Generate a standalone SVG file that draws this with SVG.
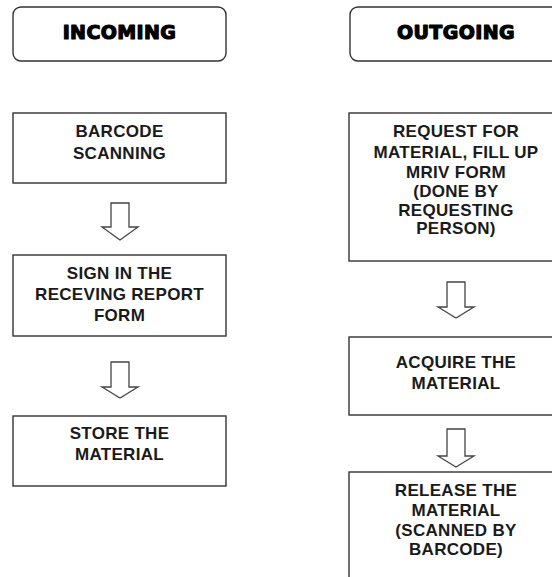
<svg xmlns="http://www.w3.org/2000/svg" width="552" height="577" viewBox="0 0 552 577">
<style>
.hdr{fill:#fff;stroke:#333;stroke-width:1.4}
.box{fill:#fff;stroke:#333;stroke-width:1.4}
.ht{font-family:"DejaVu Sans",sans-serif;font-weight:bold;font-size:19px;fill:#000;stroke:#000;stroke-width:1.2;stroke-linejoin:round;letter-spacing:0.4px;text-anchor:middle}
.t{font-family:"Liberation Sans",Arial,sans-serif;font-weight:bold;font-size:17px;letter-spacing:0.3px;fill:#1a1a1a;text-anchor:middle}
.arr{fill:#fff;stroke:#444;stroke-width:1.3;stroke-linejoin:miter}
</style>
<rect width="552" height="577" fill="#fff"/>
<g id="incoming">
<rect class="hdr" x="13" y="7" width="213" height="54" rx="8"/>
<text class="ht" x="119.5" y="39">INCOMING</text>
</g>
<g id="outgoing">
<rect class="hdr" x="350" y="7" width="220" height="54" rx="8"/>
<text class="ht" x="456" y="39">OUTGOING</text>
</g>
<g id="barcode-scanning">
<rect class="box" x="13" y="113" width="213" height="70"/>
<text class="t" x="119.5" y="137">BARCODE</text>
<text class="t" x="119.5" y="159">SCANNING</text>
</g>
<g id="sign-in">
<rect class="box" x="13" y="255" width="213" height="81"/>
<text class="t" x="119.5" y="279">SIGN IN THE</text>
<text class="t" x="119.5" y="300">RECEVING REPORT</text>
<text class="t" x="119.5" y="321">FORM</text>
</g>
<g id="store">
<rect class="box" x="13" y="416" width="213" height="70"/>
<text class="t" x="119.5" y="439">STORE THE</text>
<text class="t" x="119.5" y="460">MATERIAL</text>
</g>
<g id="request">
<rect class="box" x="349" y="113" width="220" height="148"/>
<text class="t" x="456" y="137">REQUEST FOR</text>
<text class="t" x="456" y="158">MATERIAL, FILL UP</text>
<text class="t" x="456" y="178">MRIV FORM</text>
<text class="t" x="456" y="197">(DONE BY</text>
<text class="t" x="456" y="216">REQUESTING</text>
<text class="t" x="456" y="234">PERSON)</text>
</g>
<g id="acquire">
<rect class="box" x="349" y="337" width="220" height="78"/>
<text class="t" x="456" y="368">ACQUIRE THE</text>
<text class="t" x="456" y="389">MATERIAL</text>
</g>
<g id="release">
<rect class="box" x="349" y="472" width="220" height="120"/>
<text class="t" x="456" y="496">RELEASE THE</text>
<text class="t" x="456" y="516">MATERIAL</text>
<text class="t" x="456" y="536">(SCANNED BY</text>
<text class="t" x="456" y="555">BARCODE)</text>
</g>
<g id="connectors">
<path class="arr" d="M111,203 H129 V227 H138 L120,240 L102,227 H111 Z"/>
<path class="arr" d="M111,362 H129 V387 H138 L120,398 L102,387 H111 Z"/>
<path class="arr" d="M447,282 H465 V307 H474 L456,318 L438,307 H447 Z"/>
<path class="arr" d="M447,429 H465 V456 H474 L456,467 L438,456 H447 Z"/>
</g>
</svg>
